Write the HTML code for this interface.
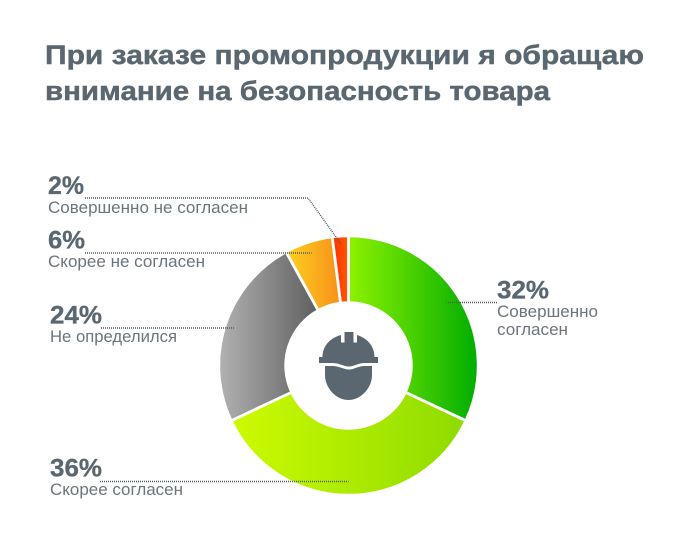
<!DOCTYPE html>
<html lang="ru">
<head>
<meta charset="utf-8">
<title>При заказе промопродукции</title>
<style>
html,body{margin:0;padding:0;background:#fff;}
svg{display:block;}
text{font-family:"Liberation Sans","Noto Sans CJK SC",sans-serif;}
.title{font-size:27px;font-weight:700;fill:#5b6770;stroke:#5b6770;stroke-width:.45px;}
.pct{font-size:25px;font-weight:700;fill:#5b6770;stroke:#5b6770;stroke-width:.3px;}
.sub{font-size:16.5px;fill:#6a757d;}
</style>
</head>
<body>
<svg id="chart" width="700" height="560" viewBox="0 0 700 560" xmlns="http://www.w3.org/2000/svg">
  <defs id="grads"></defs>
  <g>
    <text class="title" x="45" y="64" textLength="599" lengthAdjust="spacingAndGlyphs">При заказе промопродукции я обращаю</text>
    <text class="title" x="45" y="100" textLength="505" lengthAdjust="spacingAndGlyphs">внимание на безопасность товара</text>
  </g>
  <g id="slices"></g>
  <g id="leaders"></g>
  <g id="labels"></g>
  <g fill="#5b6770">
    <path d="M322.500 357 C322.500 346 330 338 341 335 L341 342.500 L344.500 342.500 L344.500 332 L353.500 332 L353.500 342.500 L357 342.500 L357 335 C367 338 374.500 346 374.500 357 L378 357 L378 363 L365 363 C358 363 354 366.500 349 366.500 C344 366.500 339 363 332 363 L319 363 L319 357 Z"/>
    <path d="M325 366 L332 366 C339 366 344 369.500 349 369.500 C354 369.500 358 366 365 366 L372 366 L372 375 C372 388 361 400 348.500 400 C336 400 325 388 325 375 Z"/>
  </g>
</svg>
<script>
const categories = ["Совершенно согласен", "Скорее согласен", "Не определился", "Скорее не согласен", "Совершенно не согласен"];
const values = [32, 36, 24, 6, 2];
const valueLabels = ["32%", "36%", "24%", "6%", "2%"];

const NS = "http://www.w3.org/2000/svg";
const cx = 348.5, cy = 365.5, rOuter = 129.7, rInner = 62.8;

function angleOf(cumulative, total) {
  return cumulative / total * 2 * Math.PI;
}
function polar(radius, angle) {
  return [cx + radius * Math.sin(angle), cy - radius * Math.cos(angle)];
}
function arcPath(a0, a1) {
  const large = a1 - a0 > Math.PI ? 1 : 0;
  const p0 = polar(rOuter, a0), p1 = polar(rOuter, a1), p2 = polar(rInner, a1), p3 = polar(rInner, a0);
  return "M" + p0.join(" ") + "A" + rOuter + " " + rOuter + " 0 " + large + " 1 " + p1.join(" ") +
         "L" + p2.join(" ") + "A" + rInner + " " + rInner + " 0 " + large + " 0 " + p3.join(" ") + "Z";
}

function draw() {
  const sliceStyle = [
    { from: "#8ef200", to: "#00ad00", key: "strongly-agree" },
    { from: "#cdfb00", to: "#8edb00", key: "agree" },
    { from: "#b2b2b2", to: "#5f5f5f", key: "undecided" },
    { from: "#fdd11f", to: "#f7901a", key: "disagree" },
    { from: "#ff2b00", to: "#ff5c00", key: "strongly-disagree" }
  ];
  const labelLayout = [
    { x: 497, pctY: 298.5, subs: [[497, 317, 101, 0], [497, 335, 71, 1]], lx: 497, ly: 302.5, r: 116, subWords: true, pctW: 52 },
    { x: 50, pctY: 476.5, subs: [[50, 495, 133]], lx: 100, ly: 481.5, r: 116.5, pctW: 52 },
    { x: 50, pctY: 323.5, subs: [[50, 342, 127]], lx: 101, ly: 328, r: 120.5, pctW: 52 },
    { x: 48, pctY: 248.5, subs: [[48, 267, 157]], lx: 85, ly: 253, r: 119.5, pctW: 37 },
    { x: 48, pctY: 194, subs: [[48, 213, 200]], lx: 85, ly: 198, r: 122, elbowX: 308, pctW: 36 }
  ];
  const total = values.reduce(function (s, v) { return s + v; }, 0);
  const defs = document.getElementById("grads");
  const slices = document.getElementById("slices");
  const leaders = document.getElementById("leaders");
  const labels = document.getElementById("labels");
  let cum = 0;
  values.forEach(function (v, i) {
    const a0 = angleOf(cum, total);
    cum += v;
    const a1 = angleOf(cum, total);
    const st = sliceStyle[i], lay = labelLayout[i];

    const grad = document.createElementNS(NS, "linearGradient");
    grad.setAttribute("id", "g" + i);
    grad.setAttribute("x1", "0"); grad.setAttribute("x2", "1");
    grad.setAttribute("y1", "0"); grad.setAttribute("y2", "0");
    [[0, st.from], [1, st.to]].forEach(function (s) {
      const stop = document.createElementNS(NS, "stop");
      stop.setAttribute("offset", s[0]);
      stop.setAttribute("stop-color", s[1]);
      grad.appendChild(stop);
    });
    defs.appendChild(grad);

    const path = document.createElementNS(NS, "path");
    path.setAttribute("d", arcPath(a0, a1));
    path.setAttribute("fill", "url(#g" + i + ")");
    path.setAttribute("stroke", "#fff");
    path.setAttribute("stroke-width", "2.8");
    
    
    slices.appendChild(path);

    const target = polar(lay.r, (a0 + a1) / 2);
    const line = document.createElementNS(NS, "polyline");
    const pts = lay.elbowX !== undefined
      ? [[lay.lx, lay.ly], [lay.elbowX, lay.ly], target]
      : [[lay.lx, lay.ly], [target[0], lay.ly]];
    line.setAttribute("points", pts.map(function (p) { return p.join(","); }).join(" "));
    line.setAttribute("fill", "none");
    line.setAttribute("stroke", "#4f5b63");
    line.setAttribute("stroke-width", "1.5");
    line.setAttribute("stroke-dasharray", "1 1");
    
    
    leaders.appendChild(line);

    const pct = document.createElementNS(NS, "text");
    pct.setAttribute("class", "pct");
    pct.setAttribute("x", lay.x);
    pct.setAttribute("y", lay.pctY);
    pct.setAttribute("textLength", lay.pctW);
    pct.setAttribute("lengthAdjust", "spacingAndGlyphs");
    pct.textContent = valueLabels[i];
    
    
    labels.appendChild(pct);

    const words = categories[i];
    const lines = lay.subWords ? words.split(" ") : [words];
    lines.forEach(function (txt, j) {
      const s = lay.subs[j];
      const t = document.createElementNS(NS, "text");
      t.setAttribute("class", "sub");
      t.setAttribute("x", s[0]);
      t.setAttribute("y", s[1]);
      t.setAttribute("textLength", s[2]);
      t.setAttribute("lengthAdjust", "spacingAndGlyphs");
      t.textContent = txt;
      
      
      labels.appendChild(t);
    });
  });
}
draw();
</script>
</body>
</html>
